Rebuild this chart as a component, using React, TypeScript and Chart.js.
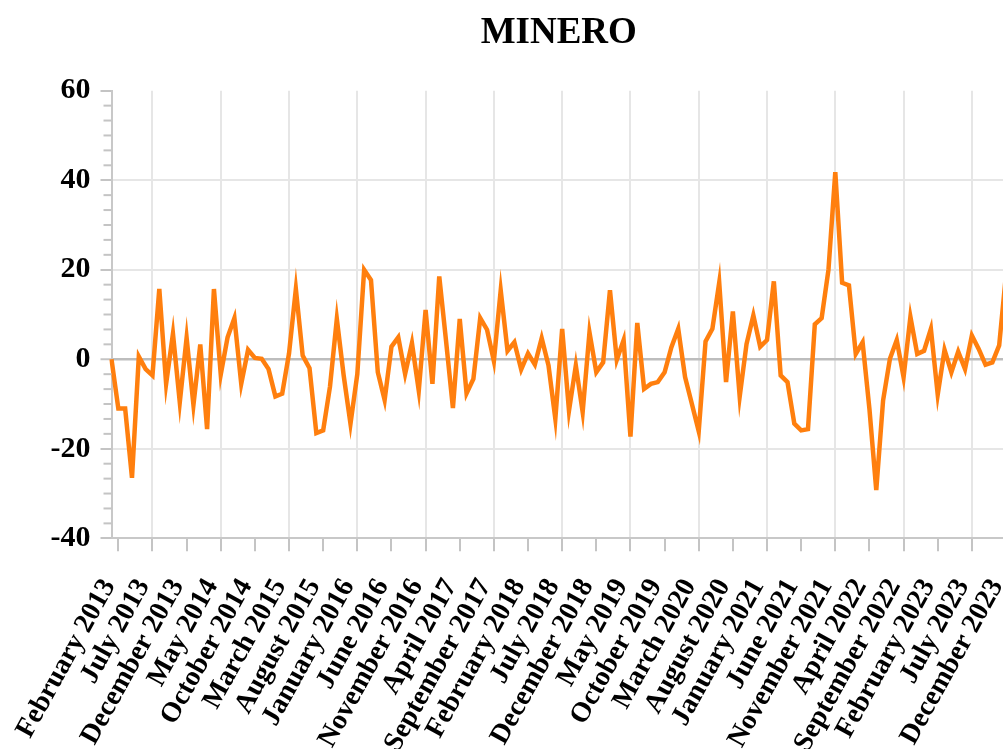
import React, { useEffect, useRef } from 'react';
import { Chart, registerables } from 'chart.js';

Chart.register(...registerables);

const chartTitle = 'MINERO';

const monthNames = [
  'January', 'February', 'March', 'April', 'May', 'June',
  'July', 'August', 'September', 'October', 'November', 'December',
];

const years = [2013, 2014, 2015, 2016, 2017, 2018, 2019, 2020, 2021, 2022, 2023];

const categories = years.flatMap((y) => monthNames.map((m) => `${m} ${y}`));

const values2013 = [0, -11, -11, -26.5, 0.6, -2.2, -3.6, 15.7, -5.5, 5.7, -9.6, 4.8];
const values2014 = [-10.2, 3.3, -15.6, 15.7, -3.4, 4.9, 9.2, -5.5, 2.1, 0.3, 0.1, -2.2];
const values2015 = [-8.3, -7.7, 1.3, 15.7, 0.8, -2, -16.5, -15.9, -6.1, 9.0, -3.6, -14.4];
const values2016 = [-3.3, 20.0, 17.7, -2.9, -9.1, 2.8, 4.9, -3.3, 3.6, -7.0, 11.0, -5.5];
const values2017 = [18.5, 4, -10.9, 9.0, -7.6, -4.4, 9.2, 6.6, -0.4, 15.4, 1.9, 3.8];
const values2018 = [-2.3, 1.3, -1.2, 4.7, -1.4, -13.3, 6.8, -11.5, -1.4, -11.8, 6.0, -2.9];
const values2019 = [-0.7, 15.4, -0.1, 4.3, -17.3, 8.1, -6.6, -5.5, -5.1, -2.9, 2.7, 6.8];
const values2020 = [-4.0, -10.0, -16.1, 4.0, 6.8, 17.1, -5.1, 10.7, -8.3, 3.4, 9.8, 2.8];
const values2021 = [4.3, 17.4, -3.6, -5.1, -14.4, -15.9, -15.6, 7.8, 9.2, 20.0, 41.8, 17.1];
const values2022 = [16.5, 1.2, 3.8, -11.1, -29.2, -9.2, 0.1, 4.3, -4.0, 9.5, 1.2, 1.9];
const values2023 = [6.8, -7.9, 2.1, -2.9, 1.7, -2.2, 5.3, 2.3, -1.2, -0.7, 3.1, 19];

const mineroValues = [
  ...values2013, ...values2014, ...values2015, ...values2016, ...values2017, ...values2018,
  ...values2019, ...values2020, ...values2021, ...values2022, ...values2023,
];

const yMin = -40;
const yMax = 60;
const yStep = 20;
const yMinorPerMajor = 6;

const minorTicksPlugin = {
  id: 'minorTicks',
  afterDraw(chart: any) {
    const yScale = chart.scales.y;
    const ctx = chart.ctx;
    const left = chart.chartArea.left;
    ctx.save();
    ctx.strokeStyle = '#c4c4c4';
    ctx.lineWidth = 2;
    const total = ((yMax - yMin) / yStep) * yMinorPerMajor;
    for (let k = 0; k <= total; k++) {
      if (k % yMinorPerMajor === 0) continue;
      const v = yMin + (k * yStep) / yMinorPerMajor;
      const py = yScale.getPixelForValue(v);
      ctx.beginPath();
      ctx.moveTo(left - 8, py);
      ctx.lineTo(left, py);
      ctx.stroke();
    }
    ctx.restore();
  },
};

export default function App() {
  const canvasRef = useRef<HTMLCanvasElement | null>(null);

  useEffect(() => {
    if (!canvasRef.current) return;
    const serif = "'Liberation Serif', 'Times New Roman', serif";
    const chart = new Chart(canvasRef.current, {
      type: 'line',
      data: {
        labels: categories,
        datasets: [
          {
            label: chartTitle,
            data: mineroValues,
            borderColor: '#ff7f0e',
            backgroundColor: '#ff7f0e',
            borderWidth: 4.5,
            pointRadius: 0,
            tension: 0,
            fill: false,
          },
        ],
      },
      options: {
        responsive: false,
        animation: false,
        layout: { padding: { left: 0, right: 0, top: 0, bottom: 0 } },
        plugins: {
          legend: { display: false },
          tooltip: { enabled: false },
          title: {
            display: true,
            text: chartTitle,
            fullSize: false,
            color: '#000',
            font: { family: serif, size: 37, weight: 'bold' },
            padding: { top: 11, bottom: 35.3 },
          },
        },
        scales: {
          x: {
            type: 'category',
            offset: false,
            afterFit(scale: any) {
              scale.height = 749 - 538.3;
              scale.paddingLeft = 0;
              scale.paddingRight = 0;
            },
            border: { display: true, color: '#c8c8c8', width: 2 },
            grid: {
              display: true,
              drawTicks: true,
              tickLength: 13,
              lineWidth: 2,
              color: (ctx: any) => (ctx.index % 10 === 6 ? '#e6e6e6' : 'rgba(0,0,0,0)'),
              tickColor: (ctx: any) => (ctx.index % 5 === 1 ? '#c4c4c4' : 'rgba(0,0,0,0)'),
              tickWidth: 2,
            },
            ticks: {
              autoSkip: false,
              minRotation: 61,
              maxRotation: 61,
              padding: 22,
              labelOffset: -9,
              color: '#000',
              font: { family: serif, size: 28, weight: 'bold' },
              callback: (_v: any, i: number) => (i % 5 === 1 ? categories[i] : ''),
            },
          },
          y: {
            type: 'linear',
            min: yMin,
            max: yMax,
            afterFit(scale: any) {
              scale.width = 111.5;
            },
            border: { display: true, color: '#c8c8c8', width: 2 },
            grid: {
              drawTicks: true,
              tickLength: 11,
              tickWidth: 2,
              tickColor: '#c4c4c4',
              lineWidth: (ctx: any) => (ctx.tick && ctx.tick.value === 0 ? 2.5 : 2),
              color: (ctx: any) => {
                const v = ctx.tick ? ctx.tick.value : null;
                if (v === 0) return '#bdbdbd';
                if (v === yMax || v === yMin) return 'rgba(0,0,0,0)';
                return '#e6e6e6';
              },
            },
            ticks: {
              stepSize: yStep,
              padding: 10,
              color: '#000',
              font: { family: serif, size: 30, weight: 'bold' },
            },
          },
        },
      },
      plugins: [minorTicksPlugin],
    });
    return () => chart.destroy();
  }, []);

  return (
    <div
      style={{
        position: 'fixed',
        left: 0,
        top: 0,
        width: '1003px',
        height: '749px',
        overflow: 'hidden',
        background: '#fff',
      }}
    >
      <canvas ref={canvasRef} width={1006} height={749} style={{ display: 'block' }} />
    </div>
  );
}
